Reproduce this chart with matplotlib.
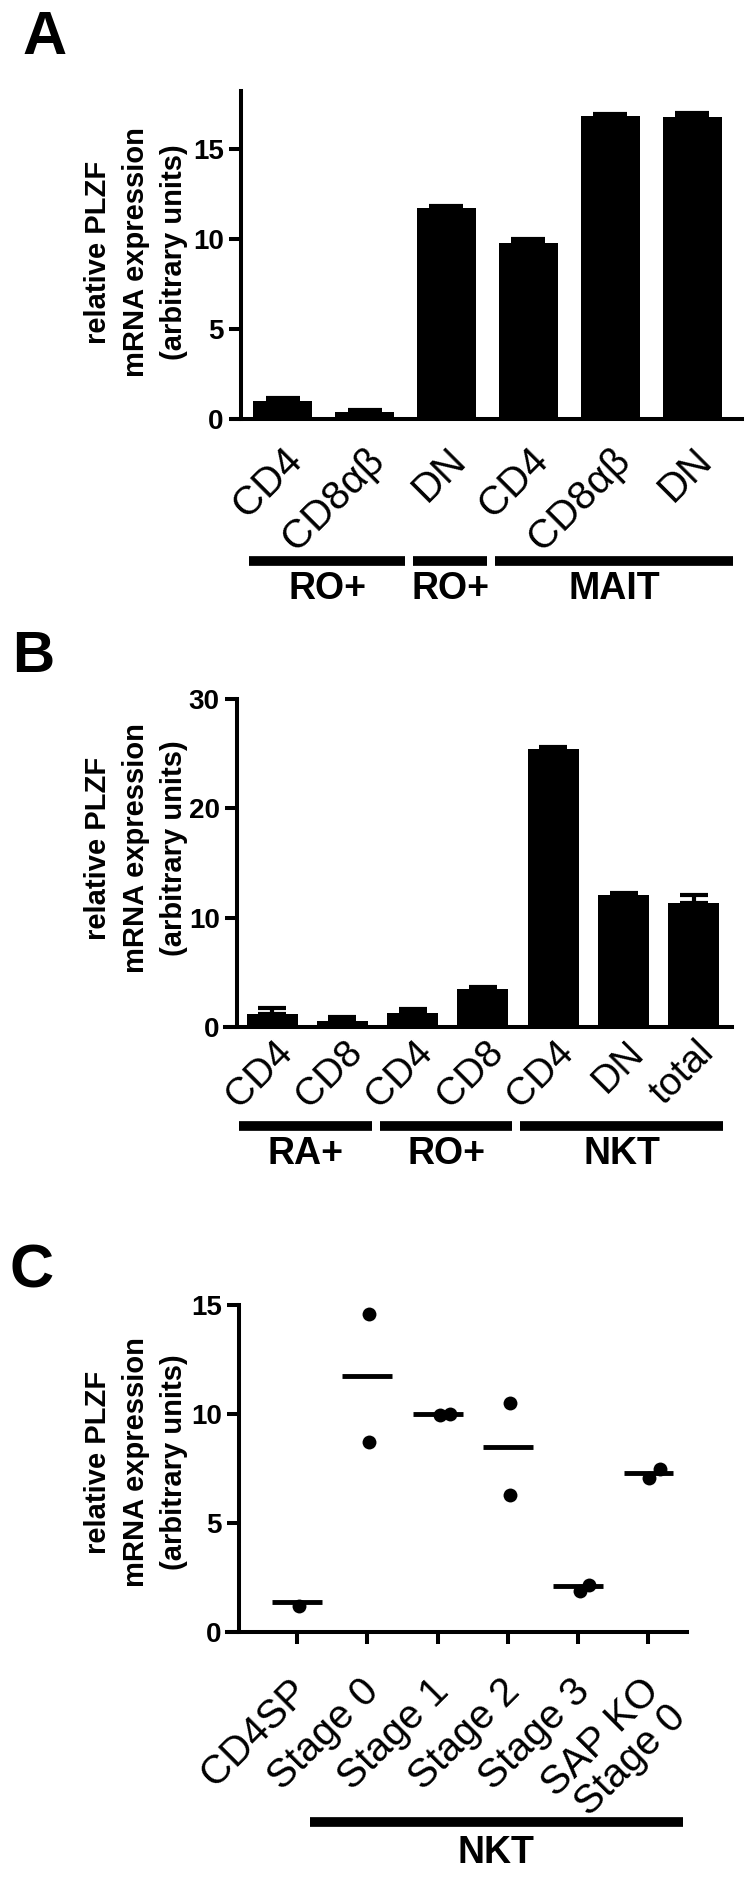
import matplotlib
matplotlib.use("Agg")
import matplotlib.pyplot as plt
from matplotlib.transforms import blended_transform_factory

plt.rcParams["font.family"] = ["Liberation Sans", "DejaVu Sans"]

# ---- data -----------------------------------------------------------------
a_labels = ["CD4", "CD8αβ", "DN", "CD4", "CD8αβ", "DN"]
a_means = [1.0, 0.38, 11.7, 9.75, 16.8, 16.75]
a_err = [0.15, 0.12, 0.12, 0.25, 0.12, 0.25]
a_groups = [("RO+", 0, 1), ("RO+", 2, 2), ("MAIT", 3, 5)]
a_ticks = [0, 5, 10, 15]

b_labels = ["CD4", "CD8", "CD4", "CD8", "CD4", "DN", "total"]
b_means = [1.16, 0.52, 1.25, 3.47, 25.4, 12.1, 11.3]
b_err = [0.6, 0.35, 0.42, 0.2, 0.2, 0.12, 0.8]
b_groups = [("RA+", 0, 1), ("RO+", 2, 3), ("NKT", 4, 6)]
b_ticks = [0, 10, 20, 30]

c_labels = ["CD4SP", "Stage 0", "Stage 1", "Stage 2", "Stage 3", "SAP KO\nStage 0"]
c_points = [[1.2], [14.6, 8.7], [9.95, 10.0], [10.5, 6.3], [1.9, 2.15], [7.05, 7.48]]
c_jitter = [[0.03], [0.03, 0.03], [0.03, 0.18], [0.03, 0.03], [0.03, 0.16], [0.01, 0.17]]
c_means = [1.36, 11.74, 10.0, 8.5, 2.13, 7.31]
c_groups = [("NKT", 1, 5)]
c_ticks = [0, 5, 10, 15]

W, H = 750, 1878
fig = plt.figure(figsize=(W / 100, H / 100), dpi=100)
LW = 2.9


def px_axes(left, top, right, bottom):
    return fig.add_axes([left / W, 1 - bottom / H, (right - left) / W, (bottom - top) / H])


def style(ax, xlim, ylim, spine_x, ticks):
    ax.set_xlim(*xlim)
    ax.set_ylim(*ylim)
    for s in ("top", "right"):
        ax.spines[s].set_visible(False)
    ax.spines["left"].set_position(("data", spine_x))
    ax.spines["left"].set_linewidth(LW)
    ax.spines["bottom"].set_linewidth(LW)
    ax.set_yticks(ticks)
    ax.tick_params(axis="y", width=LW, length=8.5, labelsize=20, pad=4)
    for t in ax.get_yticklabels():
        t.set_fontweight("bold")
    ax.set_xticks([])


def xlabels(ax, labels, dx, dy, size=29):
    for i, lab in enumerate(labels):
        ax.annotate(lab, xy=(i, 0), xycoords=("data", "axes fraction"),
                    xytext=(dx, -dy), textcoords="offset pixels",
                    rotation=45, ha="right", va="top", rotation_mode="anchor",
                    fontsize=size, linespacing=0.95, annotation_clip=False)


def groups(ax, grp, left_pad, right_pad, bar_off, text_off, ax_h):
    tr = blended_transform_factory(ax.transData, ax.transAxes)
    for name, i0, i1 in grp:
        x0, x1 = i0 - left_pad, i1 + right_pad
        yb = -bar_off / ax_h
        ax.plot([x0, x1], [yb, yb], color="black", lw=7, solid_capstyle="butt",
                transform=tr, clip_on=False)
        ax.text((x0 + x1) / 2, -text_off / ax_h, name, transform=tr,
                ha="center", va="center", fontsize=27, fontweight="bold")


def ylabel(yc):
    fig.text(136 / W, 1 - yc / H, "relative PLZF\nmRNA expression\n(arbitrary units)",
             rotation=90, ha="center", va="center", multialignment="center",
             fontsize=21, fontweight="bold", linespacing=1.45)


# ---- panel A --------------------------------------------------------------
axA = px_axes(232, 91, 742, 419)
xa = list(range(len(a_means)))
axA.bar(xa, a_means, width=0.72, color="black", zorder=2)
axA.errorbar(xa, a_means, yerr=[[0] * len(a_err), a_err], fmt="none", ecolor="black",
             elinewidth=3, capsize=11.9, capthick=3, zorder=3)
style(axA, (-0.616, 5.604), (0, 18.2), -0.506, a_ticks)
xlabels(axA, a_labels, 0, 22)
groups(axA, a_groups, 0.41, 0.5, 142, 170, 328)
ylabel(252)
fig.text(22 / W, 1 - 10 / H, "A", ha="left", va="top", fontsize=44, fontweight="bold")

# ---- panel B --------------------------------------------------------------
axB = px_axes(225, 699, 732, 1027)
xb = list(range(len(b_means)))
axB.bar(xb, b_means, width=0.725, color="black", zorder=2)
axB.errorbar(xb, b_means, yerr=[[0] * len(b_err), b_err], fmt="none", ecolor="black",
             elinewidth=3, capsize=10.4, capthick=3, zorder=3)
style(axB, (-0.669, 6.543), (0, 30), -0.498, b_ticks)
xlabels(axB, b_labels, 2, 7, size=28)
groups(axB, b_groups, 0.47, 0.42, 99, 127, 328)
ylabel(848)
fig.text(12 / W, 1 - 630 / H, "B", ha="left", va="top", fontsize=42, fontweight="bold")

# ---- panel C --------------------------------------------------------------
axC = px_axes(227, 1305, 687, 1632)
for i, (pts, jit) in enumerate(zip(c_points, c_jitter)):
    axC.plot([i + j for j in jit], pts, "o", color="black", ms=10, mew=0, zorder=3)
axC.hlines(c_means, [i - 0.355 for i in range(len(c_means))],
           [i + 0.355 for i in range(len(c_means))], color="black", lw=3.5, zorder=2)
style(axC, (-0.996, 5.548), (0, 15), -0.825, c_ticks)
axC.set_xticks(range(len(c_labels)))
axC.set_xticklabels([])
axC.tick_params(axis="x", width=LW, length=8.5, direction="out")
xlabels(axC, c_labels, -8, 40)
groups(axC, c_groups, 0.82, 0.49, 190, 221, 327)
ylabel(1462)
fig.text(10 / W, 1 - 1244 / H, "C", ha="left", va="top", fontsize=44, fontweight="bold")

fig.savefig("out.png", dpi=100)
